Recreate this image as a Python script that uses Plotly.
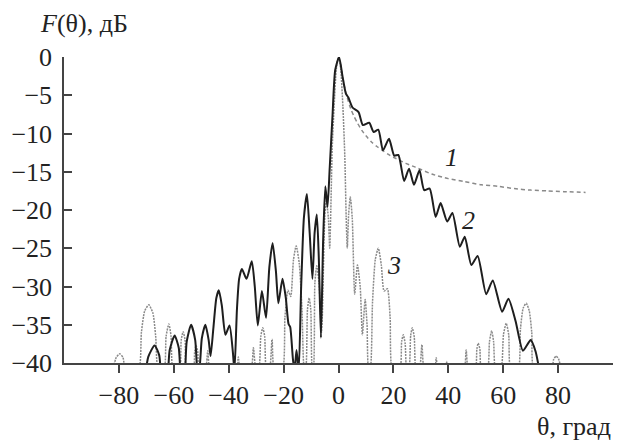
import plotly.graph_objects as go

# Curve 1: dashed envelope
theta1 = [0.0, 0.8, 1.6, 2.5, 3.5, 4.5, 5.7, 7.0, 8.5, 10.0, 12.0, 14.0, 16.0, 18.0, 20.0, 24.5,
          28.0, 34.0, 40.0, 46.0, 52.0, 58.0, 64.0, 70.0, 76.0, 82.0, 90.0]
f1 = [0.0, -1.0, -2.8, -4.4, -5.7, -6.8, -7.8, -8.7, -9.6, -10.3, -11.1, -11.7, -12.2, -12.7,
      -13.1, -13.9, -14.4, -15.3, -15.9, -16.3, -16.7, -16.9, -17.2, -17.4, -17.5, -17.6, -17.7]

# Curve 2: solid
theta2 = [-70.5, -69.3, -67.0, -65.3, -64.3, -62.6, -61.5, -59.7, -58.2, -57.2,
          -56.3, -55.3, -53.7, -52.2, -51.3, -50.8, -49.8, -48.5, -47.3, -46.6,
          -45.6, -44.5, -43.6, -42.5, -41.2, -39.7, -38.5, -37.9,
          -37.0, -36.2, -35.2, -33.5, -31.6, -30.5, -29.4, -27.9, -26.4, -25.2, -24.0,
          -22.8, -21.9, -20.4, -19.2, -18.2, -17.6, -16.6, -16.0, -15.3, -14.5, -13.6,
          -12.6, -11.5, -10.5, -9.5, -8.7, -7.9, -7.2, -6.4, -5.6, -4.8, -4.0, -3.2,
          -2.2, -1.2, 0.2, 1.5, 2.7, 3.6, 5.1, 7.3, 8.9, 11.2, 12.8, 14.5, 16.2, 18.4,
          20.3, 21.8, 23.9, 25.7, 27.5, 29.5, 31.2, 33.2, 35.4, 37.2, 39.6, 41.5, 44.2,
          46.0, 48.4, 50.7, 53.8, 56.2, 59.6, 61.9, 64.5, 67.2, 70.0, 71.8, 73.2]
f2 = [-42, -39.2, -37.7, -39.0, -42, -42, -38.3, -36.4, -38.0, -42,
      -42, -37.2, -35.0, -37.0, -41, -41, -36.8, -35.0, -37.0, -39.1,
      -35.5, -31.5, -30.5, -32.5, -36.3, -35.1, -38.5, -41,
      -33, -29, -27.7, -29.0, -26.7, -30, -35.1, -30.6, -34.1, -27.5, -24.3,
      -28, -32.2, -29.0, -31.5, -34.9, -35.3, -39.5, -41, -38.3, -41, -30,
      -21, -17.9, -23, -29.0, -23, -20.6, -26, -36.7, -24, -16.9, -19.6, -14.5,
      -7.8, -1.7, 0.0, -2.6, -4.8, -5.3, -6.6, -7.2, -8.9, -8.6, -9.8, -9.5, -12.2, -10.7,
      -12.9, -12.8, -16.2, -14.6, -16.7, -14.8, -17.4, -17.2, -20.9, -19.1, -21.5, -20.4, -24.8,
      -23.5, -27.2, -26.0, -31.0, -29.2, -33.3, -31.6, -34.5, -38.4, -37.0, -38.5, -41]

# Curve 3: dotted
theta3 = [-82.2, -81.0, -79.7, -78.5, -77.5,
          -72.9, -71.8, -70.6, -69.1, -67.6, -66.6, -65.6,
          -63.6, -62.8, -61.8, -61.0, -60.2,
          -58.0, -57.3, -56.6, -55.9, -55.3,
          -52.9, -52.4, -51.9, -51.3, -50.7,
          -48.6, -47.6, -46.6,
          -37.3, -36.5, -35.7,
          -32.0, -31.0, -30.0,
          -29.1, -28.3, -27.6, -26.9, -26.2,
          -25.2, -24.2, -23.3,
          -20.5, -19.5, -18.4, -17.4, -16.4, -15.4, -14.3, -13.3, -12.4,
          -12.0, -11.3, -10.7, -10.1, -9.5,
          -9.2, -8.6, -7.9, -7.1, -6.2,
          -5.9, -5.0, -4.4, -3.7, -3.2, -2.8, -2.3, -1.6, -0.8, 0.0, 0.8, 1.6, 2.3, 2.8,
          3.2, 3.7, 4.3, 5.0, 5.9, 6.9, 7.9, 8.7, 9.7, 10.4, 11.0,
          11.5, 12.4, 13.4, 14.5, 15.6, 16.6, 17.8, 18.8, 19.7,
          22.3, 23.0, 23.6, 24.3, 24.9,
          25.6, 26.3, 26.9, 27.6, 28.3,
          29.4, 30.4, 31.4,
          34.9, 35.6, 36.3,
          38.9, 39.4, 39.9,
          45.6, 46.5, 47.4,
          49.8, 50.4, 50.9, 51.5, 52.1,
          54.2, 55.0, 55.8, 56.5, 57.3,
          59.1, 60.1, 61.1, 62.0, 62.8,
          65.4, 66.3, 67.3, 68.4, 69.5, 70.4, 71.3,
          77.5, 78.4, 79.3, 80.2, 81.2]
f3 = [-41, -39.3, -38.8, -39.3, -41,
      -41, -36, -33.2, -32.4, -33.5, -36.5, -41,
      -41, -36.5, -34.9, -36.5, -41,
      -41, -37, -35.9, -37, -41,
      -41, -38.5, -37.7, -38.5, -41,
      -41, -38.4, -41,
      -41, -39.2, -41,
      -41, -38.0, -41,
      -41, -36.5, -35.4, -36.5, -41,
      -41, -36.9, -41,
      -41, -34, -30.5, -31.3, -26.5, -24.7, -27, -33, -41,
      -41, -33, -31.5, -33, -41,
      -41, -29.5, -27.3, -29.5, -36,
      -34, -21, -18.8, -21, -25, -20, -12, -6.5, -1.6, 0.0, -1.6, -6.5, -13, -21,
      -25, -20.5, -18.3, -21, -31, -27.2, -30, -36.3, -31.7, -35, -41,
      -41, -32, -26.5, -25, -27.2, -30.6, -30.3, -34, -41,
      -41, -37.2, -36.3, -37.5, -41,
      -41, -36.4, -35.4, -36.6, -41,
      -41, -37.6, -41,
      -41, -39.3, -41,
      -41, -39.8, -41,
      -41, -38.3, -41,
      -41, -38.2, -37.4, -38.2, -41,
      -41, -37.2, -35.8, -37.2, -41,
      -41, -36.3, -34.8, -36.3, -41,
      -41, -35.5, -32.8, -32.2, -33.2, -36, -41,
      -41, -39.5, -39.1, -39.5, -41]

x_ticks = [-80, -60, -40, -20, 0, 20, 40, 60, 80]
y_ticks = [0, -5, -10, -15, -20, -25, -30, -35, -40]

curve_labels = ["1", "2", "3"]
label_theta = [41.0, 47.5, 20.2]
label_f = [-13.1, -21.4, -27.3]

FONT = "Liberation Serif"
FS = 26

fig = go.Figure()
fig.add_trace(go.Scatter(x=theta3, y=f3, mode="lines",
                         line=dict(color="#8a8a8a", width=1.5, dash="2px,1px", shape="spline", smoothing=0.6),
                         hoverinfo="skip"))
fig.add_trace(go.Scatter(x=theta1, y=f1, mode="lines",
                         line=dict(color="#8a8a8a", width=1.5, dash="4px,3px", shape="spline", smoothing=0.6),
                         hoverinfo="skip"))
fig.add_trace(go.Scatter(x=theta2, y=f2, mode="lines",
                         line=dict(color="#1e1e1e", width=2, shape="spline", smoothing=0.6),
                         hoverinfo="skip"))

for t, xv, yv in zip(curve_labels, label_theta, label_f):
    fig.add_annotation(x=xv, y=yv, text="<i>" + t + "</i>", showarrow=False,
                       font=dict(family=FONT, size=FS, color="#222"))

fig.add_annotation(xref="paper", yref="paper", x=-0.047, y=1.11, xanchor="left", yanchor="middle",
                   text="<i>F</i>(θ), дБ", showarrow=False, font=dict(family=FONT, size=FS, color="#222"))
fig.add_annotation(xref="paper", yref="paper", x=1.0, y=-0.206, xanchor="right", yanchor="middle",
                   text="θ, град", showarrow=False, font=dict(family=FONT, size=FS, color="#222"))

fig.update_layout(
    width=627, height=441,
    margin=dict(l=64, r=14, t=57, b=78),
    plot_bgcolor="white", paper_bgcolor="white",
    showlegend=False,
    font=dict(family=FONT, size=FS, color="#222"),
)
fig.update_xaxes(range=[-100, 100], tickvals=x_ticks, showgrid=False, zeroline=False,
                 showline=True, linecolor="#444", linewidth=1.5,
                 ticks="outside", ticklen=8, tickcolor="#444", tickwidth=1.5,
                 tickfont=dict(family=FONT, size=FS, color="#222"))
fig.update_yaxes(range=[-40, 0], tickvals=y_ticks, showgrid=False, zeroline=False,
                 showline=True, linecolor="#444", linewidth=1.5,
                 ticks="inside", ticklen=8, tickcolor="#444", tickwidth=1.5,
                 ticklabelstandoff=5,
                 tickfont=dict(family=FONT, size=FS, color="#222"))

fig.write_html("out.html")
